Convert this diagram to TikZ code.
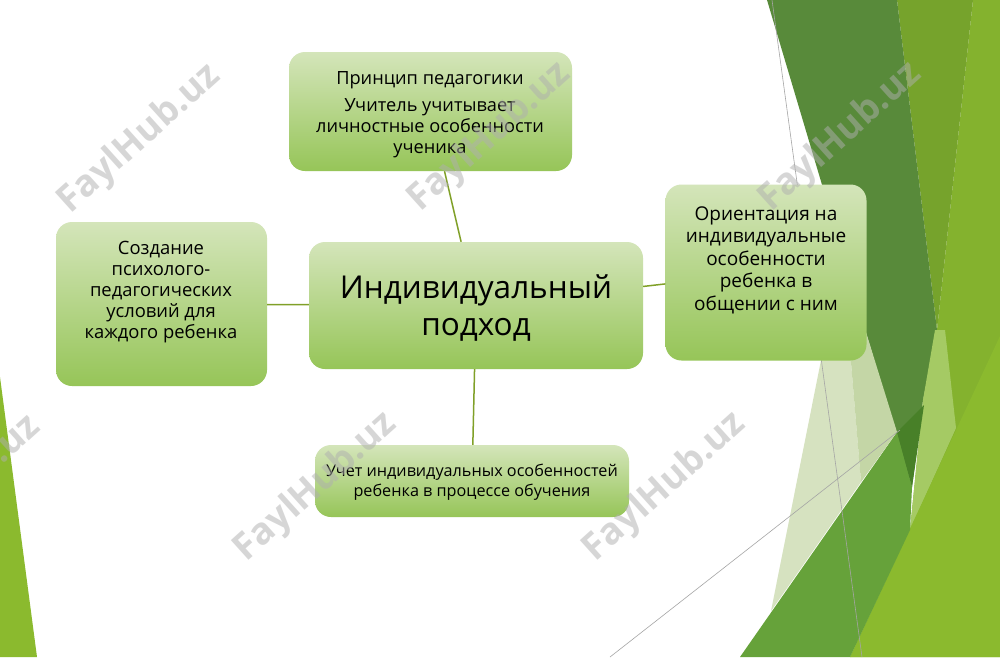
\documentclass[tikz,border=0pt]{standalone}
\usepackage{fontspec}
\setmainfont{Open Sans}
\definecolor{nodetop}{RGB}{212,229,186}
\definecolor{nodebot}{RGB}{150,197,88}
\definecolor{conn}{RGB}{128,160,40}
\definecolor{limeA}{RGB}{139,186,46}
\definecolor{limeB}{RGB}{132,178,46}
\definecolor{oliveC}{RGB}{118,163,44}
\definecolor{darkG}{RGB}{88,138,58}
\definecolor{darkO}{RGB}{72,128,40}
\definecolor{stripeC}{RGB}{165,202,100}
\definecolor{medG}{RGB}{102,162,58}
\definecolor{paleA}{RGB}{214,226,192}
\definecolor{paleB}{RGB}{196,214,166}
\definecolor{thin}{RGB}{165,165,165}
\definecolor{wmC}{RGB}{175,175,175}
\tikzset{
  box/.style={rounded corners=16pt, top color=nodetop, bottom color=nodebot, draw=none, inner sep=0pt},
  txt/.style={align=center, inner sep=0pt, text=black},
  link/.style={draw=conn, line width=1.5pt},
  wm/.style={text=wmC, opacity=0.5, font=\fontsize{37}{37}\selectfont\bfseries, rotate=42, inner sep=0pt},
  thinline/.style={draw=thin, line width=0.6pt}
}
\begin{document}
\begin{tikzpicture}[x=1pt,y=-1pt]
\useasboundingbox (0,0) rectangle (1000,657);
\fill[white] (0,0) rectangle (1000,657);
% background facets
\fill[limeB] (973,0) -- (1000,0) -- (1000,657) -- (850,657) -- (910,530) -- (923,400) -- (937,330) -- cycle;
\fill[oliveC] (897,0) -- (973,0) -- (937,330) -- cycle;
\fill[darkG] (767,0) -- (897,0) -- (937,330) -- (923,400) -- (912,487) -- cycle;
\fill[stripeC] (935,330) -- (945,330) -- (956,428) -- (910,530) -- (923,400) -- cycle;
\fill[limeA] (850,657) -- (1000,336) -- (1000,657) -- cycle;
\fill[medG] (740,657) -- (897,432) -- (912,487) -- (910,530) -- (850,657) -- cycle;
\fill[darkO] (897,432) -- (924,405) -- (912,487) -- cycle;
\fill[paleA] (842,255) -- (861,482) -- (771,611) -- cycle;
\fill[paleB] (842,255) -- (897,432) -- (861,482) -- cycle;
\draw[thinline] (772,0) -- (862,657);
\draw[thinline] (610,657) -- (900,430);
\fill[limeA] (0,377) -- (37,657) -- (0,657) -- cycle;
% nodes
\node[box, minimum width=283pt, minimum height=119pt] (top) at (430.5,111.5) {};
\node[box, minimum width=334pt, minimum height=127pt] (mid) at (476,305.5) {};
\node[box, minimum width=211pt, minimum height=164pt] (left) at (161.5,304) {};
\node[box, minimum width=201pt, minimum height=176pt] (right) at (766,272.5) {};
\node[box, minimum width=314pt, minimum height=72pt] (bot) at (472,481) {};
% connectors
\draw[link] (top) -- (mid);
\draw[link] (left) -- (mid);
\draw[link] (mid) -- (right);
\draw[link] (mid) -- (bot);
% texts
\node[txt, font=\fontsize{18.2}{21}\selectfont] (topT) at (430,114.5) {Принцип педагогики\\[6pt]Учитель учитывает\\личностные особенности\\ученика};
\node[txt, font=\fontsize{31.5}{37}\selectfont] (midT) at (476,308) {Индивидуальный\\подход};
\node[txt, font=\fontsize{18.4}{21}\selectfont] (leftT) at (161,292.5) {Создание\\психолого-\\педагогических\\условий для\\каждого ребенка};
\node[txt, font=\fontsize{19}{22.5}\selectfont] (rightT) at (766,260) {Ориентация на\\индивидуальные\\особенности\\ребенка в\\общении с ним};
\node[txt, font=\fontsize{16.2}{20}\selectfont] (botT) at (472,482) {Учет индивидуальных особенностей\\ребенка в процессе обучения};
% watermarks
\node[wm] (w1) at (140,139) {FaylHub.uz};
\node[wm] (w2) at (490,137) {FaylHub.uz};
\node[wm] (w3) at (841,137) {FaylHub.uz};
\node[wm] (w4) at (-40,490) {FaylHub.uz};
\node[wm] (w5) at (316,487) {FaylHub.uz};
\node[wm] (w6) at (665,487) {FaylHub.uz};
\end{tikzpicture}
\end{document}
